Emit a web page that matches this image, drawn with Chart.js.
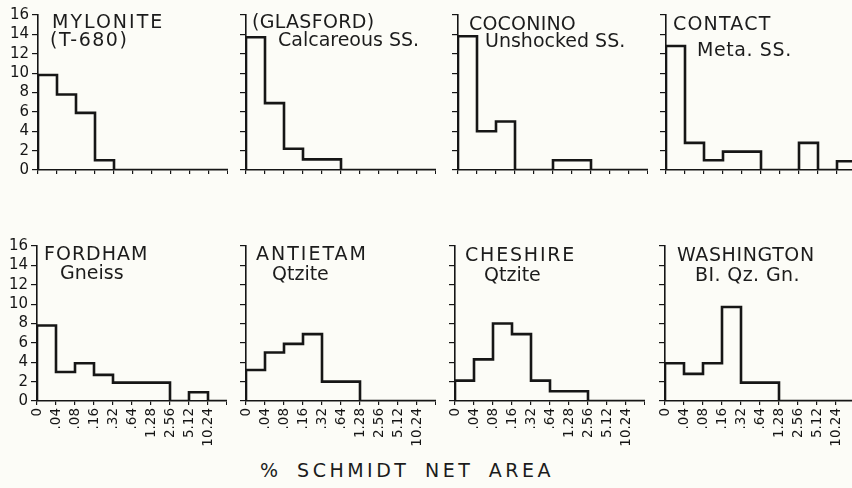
<!DOCTYPE html>
<html><head><meta charset="utf-8">
<script src="https://cdn.jsdelivr.net/npm/chart.js@4.4.1/dist/chart.umd.min.js"></script>
<style>
html,body{margin:0;padding:0;background:#fcfcf7;}
body{width:852px;height:488px;overflow:hidden;position:relative;font-family:"DejaVu Sans",sans-serif;color:#1c1c1c;}
canvas{position:absolute;}
.t{position:absolute;font-size:19px;line-height:19px;white-space:nowrap;color:#1c1c1c;}
#xt{position:absolute;left:260px;top:461px;font-size:19px;line-height:19px;letter-spacing:3.5px;word-spacing:6px;white-space:nowrap;color:#1c1c1c;}
</style></head><body>
<canvas id="c0" width="230" height="215" style="left:-2px;top:5px"></canvas>
<canvas id="c1" width="230" height="215" style="left:206px;top:5px"></canvas>
<canvas id="c2" width="230" height="215" style="left:418px;top:5px"></canvas>
<canvas id="c3" width="230" height="215" style="left:626px;top:5px"></canvas>
<canvas id="c4" width="230" height="215" style="left:-3px;top:236px"></canvas>
<canvas id="c5" width="230" height="215" style="left:206px;top:236px"></canvas>
<canvas id="c6" width="230" height="215" style="left:415px;top:236px"></canvas>
<canvas id="c7" width="230" height="215" style="left:625px;top:236px"></canvas>

<div class="t" style="left:52px;top:12px;letter-spacing:2px">MYLONITE</div>
<div class="t" style="left:50px;top:30px;letter-spacing:1.5px">(T-680)</div>
<div class="t" style="left:252px;top:12px;letter-spacing:0.3px">(GLASFORD)</div>
<div class="t" style="left:278px;top:30px">Calcareous SS.</div>
<div class="t" style="left:469px;top:14px;letter-spacing:0.2px">COCONINO</div>
<div class="t" style="left:485px;top:31px">Unshocked SS.</div>
<div class="t" style="left:673px;top:14px;letter-spacing:1.2px">CONTACT</div>
<div class="t" style="left:697px;top:40px;letter-spacing:0.6px">Meta. SS.</div>
<div class="t" style="left:44px;top:244px;letter-spacing:1px">FORDHAM</div>
<div class="t" style="left:256px;top:244px;letter-spacing:2px">ANTIETAM</div>
<div class="t" style="left:60px;top:263px">Gneiss</div>
<div class="t" style="left:272px;top:264px">Qtzite</div>
<div class="t" style="left:465px;top:245px;letter-spacing:1.8px">CHESHIRE</div>
<div class="t" style="left:484px;top:265px">Qtzite</div>
<div class="t" style="left:677px;top:245px;letter-spacing:0.6px">WASHINGTON</div>
<div class="t" style="left:695px;top:265px;letter-spacing:0.4px">BI. Qz. Gn.</div>
<div id="xt">% SCHMIDT NET AREA</div>

<script>
// Bin boundary labels (% Schmidt net area)
const binLabels = ['0', '.04', '.08', '.16', '.32', '.64', '1.28', '2.56', '5.12', '10.24'];
const yMin = 0, yMax = 16, yStep = 2;

// Histogram values per bin (frequency %)
const mylonite   = [9.8, 7.8, 5.9, 1.0, 0, 0, 0, 0, 0, 0];
const glasford   = [13.7, 6.9, 2.2, 1.1, 1.1, 0, 0, 0, 0, 0];
const coconino   = [13.8, 4.0, 5.0, 0, 0, 1.0, 1.0, 0, 0, 0];
const contact    = [12.8, 2.8, 1.0, 1.9, 1.9, 0, 0, 2.8, 0, 0.9];
const fordham    = [7.8, 3.0, 3.9, 2.7, 1.9, 1.9, 1.9, 0, 0.9, 0];
const antietam   = [3.2, 5.0, 5.9, 6.9, 2.0, 2.0, 0, 0, 0, 0];
const cheshire   = [2.1, 4.3, 8.0, 6.9, 2.1, 1.0, 1.0, 0, 0, 0];
const washington = [3.9, 2.8, 3.9, 9.7, 1.9, 1.9, 0, 0, 0, 0];

const FONT = '"DejaVu Sans", sans-serif';
const INK = '#161616';

function makeChart(id, values, showY, showX) {
  // step outline: rise at left edge, each bin's level runs to the next boundary
  const pts = [{x: 0, y: 0}];
  values.forEach((v, i) => pts.push({x: i, y: v}));
  pts.push({x: values.length, y: values[values.length - 1]});
  new Chart(document.getElementById(id), {
    type: 'line',
    data: {datasets: [{data: pts, stepped: 'before', borderColor: INK, borderWidth: 2.6,
      pointRadius: 0, fill: false, tension: 0, borderJoinStyle: 'miter', borderCapStyle: 'square'}]},
    options: {
      responsive: false, animation: false, maintainAspectRatio: false,
      layout: {padding: {top: 10, left: 0, right: 0, bottom: 0}},
      plugins: {legend: {display: false}, tooltip: {enabled: false}, title: {display: false}},
      events: [],
      scales: {
        x: {
          type: 'linear', min: 0, max: binLabels.length,
          ticks: {stepSize: 1, display: showX, autoSkip: false, minRotation: 90, maxRotation: 90,
            padding: 3, color: INK, font: {family: FONT, size: 13.5},
            callback: (v) => (binLabels[v] !== undefined ? binLabels[v] : '')},
          grid: {display: true, drawOnChartArea: false, drawTicks: true, tickLength: 4, color: INK, lineWidth: 1.2},
          border: {display: true, color: INK, width: 1.6},
          afterFit: (s) => { s.height = 50; s.paddingLeft = 0; s.paddingRight = 0; }
        },
        y: {
          min: yMin, max: yMax,
          ticks: {stepSize: yStep, display: showY, autoSkip: false, padding: 3, color: INK, font: {family: FONT, size: 15}},
          grid: {display: true, drawOnChartArea: false, drawTicks: true, tickLength: 6, color: INK, lineWidth: 1.2},
          border: {display: true, color: INK, width: 1.6},
          afterFit: (s) => { s.width = 40; s.paddingTop = 0; s.paddingBottom = 0; }
        }
      }
    }
  });
}

makeChart('c0', mylonite, true, false);
makeChart('c1', glasford, false, false);
makeChart('c2', coconino, false, false);
makeChart('c3', contact, false, false);
makeChart('c4', fordham, true, true);
makeChart('c5', antietam, false, true);
makeChart('c6', cheshire, false, true);
makeChart('c7', washington, false, true);
</script>
</body></html>
